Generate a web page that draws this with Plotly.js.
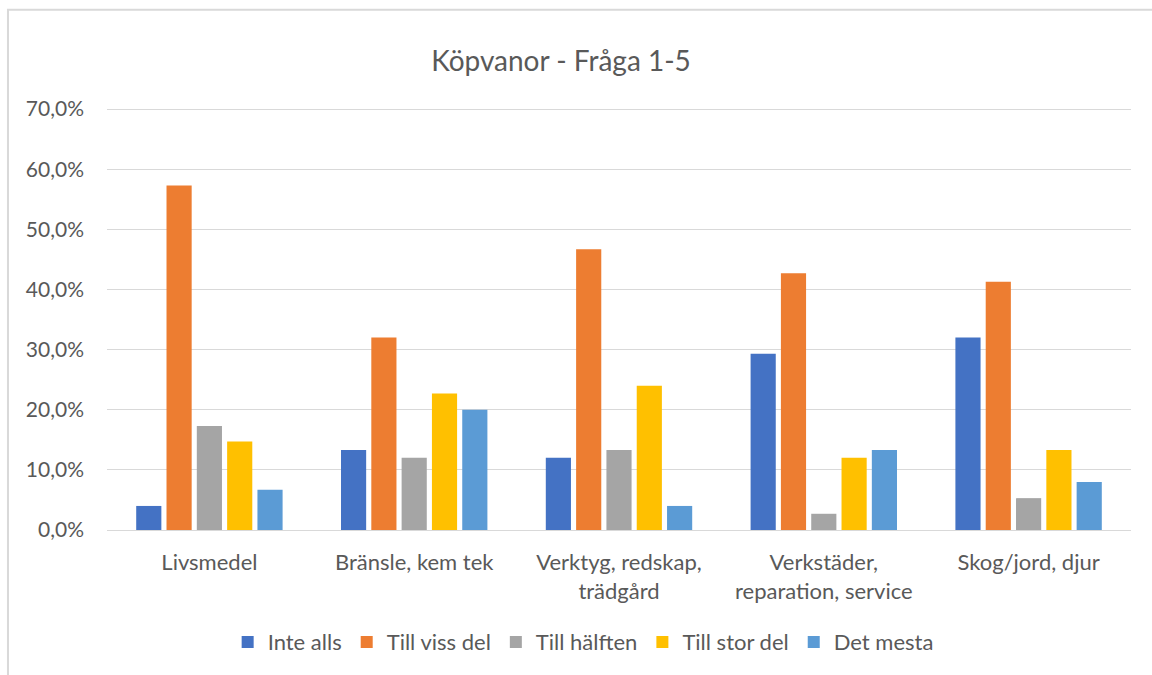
<!DOCTYPE html>
<html><head><meta charset="utf-8">
<script src="https://cdn.plot.ly/plotly-3.0.1.min.js"></script>
<style>html,body{margin:0;padding:0;background:#fff}#chart{width:1152px;height:675px}</style>
</head><body><div id="chart"></div>
<script>
const categories = ["Livsmedel", "Bränsle, kem tek", "Verktyg, redskap,<br>trädgård", "Verkstäder,<br>reparation, service", "Skog/jord, djur"];
const seriesNames = ["Inte alls", "Till viss del", "Till hälften", "Till stor del", "Det mesta"];
const inteAlls   = [0.040, 0.133, 0.120, 0.293, 0.320];
const tillViss   = [0.573, 0.320, 0.467, 0.427, 0.413];
const tillHalft  = [0.173, 0.120, 0.133, 0.027, 0.053];
const tillStor   = [0.147, 0.227, 0.240, 0.120, 0.133];
const detMesta   = [0.067, 0.200, 0.040, 0.133, 0.080];
const yTicks = [0, 0.1, 0.2, 0.3, 0.4, 0.5, 0.6, 0.7];
const colors = ["#4472C4", "#ED7D31", "#A5A5A5", "#FFC000", "#5B9BD5"];

const values = [inteAlls, tillViss, tillHalft, tillStor, detMesta];
const font = "Lato, 'Open Sans', sans-serif";
const data = values.map((v, i) => ({
  type: "bar", name: seriesNames[i], x: categories, y: v,
  marker: {color: colors[i]}, hoverinfo: "y+name"
}));
const layout = {
  width: 1152, height: 675,
  margin: {l: 107, r: 21, t: 107, b: 143},
  paper_bgcolor: "#fff", plot_bgcolor: "#fff",
  separators: ", ",
  font: {family: font, color: "#595959", size: 20},
  title: {text: "Köpvanor - Fråga 1-5", font: {size: 28, color: "#595959", family: font},
          x: 0.487, xanchor: "center", y: 0.91, yanchor: "middle", xref: "container", yref: "container"},
  barmode: "group", bargap: 0.26, bargroupgap: 0.17,
  xaxis: {tickfont: {size: 22, color: "#595959"}, showline: true, linecolor: "#d9d9d9", linewidth: 1,
          ticks: "", ticklabelstandoff: 13},
  yaxis: {range: [0, 0.7035], tickvals: yTicks, tickformat: ".1%", gridcolor: "#d9d9d9", gridwidth: 1,
          zeroline: false, showline: false, ticks: "", tickfont: {size: 21, color: "#595959"},
          ticklabelstandoff: 22},
  legend: {orientation: "h", x: 0.465, xanchor: "center", y: -0.265, yanchor: "middle",
           font: {size: 22, color: "#595959"}, itemwidth: 30, tracegroupgap: 0},
  shapes: [{type: "rect", xref: "paper", yref: "paper", x0: -0.0967, x1: 1.2, y0: -0.6, y1: 1.23,
            line: {color: "#d9d9d9", width: 2}, fillcolor: "rgba(0,0,0,0)", layer: "below"}],
  showlegend: true
};
Plotly.newPlot("chart", data, layout, {displayModeBar: false, staticPlot: true});
</script></body></html>
